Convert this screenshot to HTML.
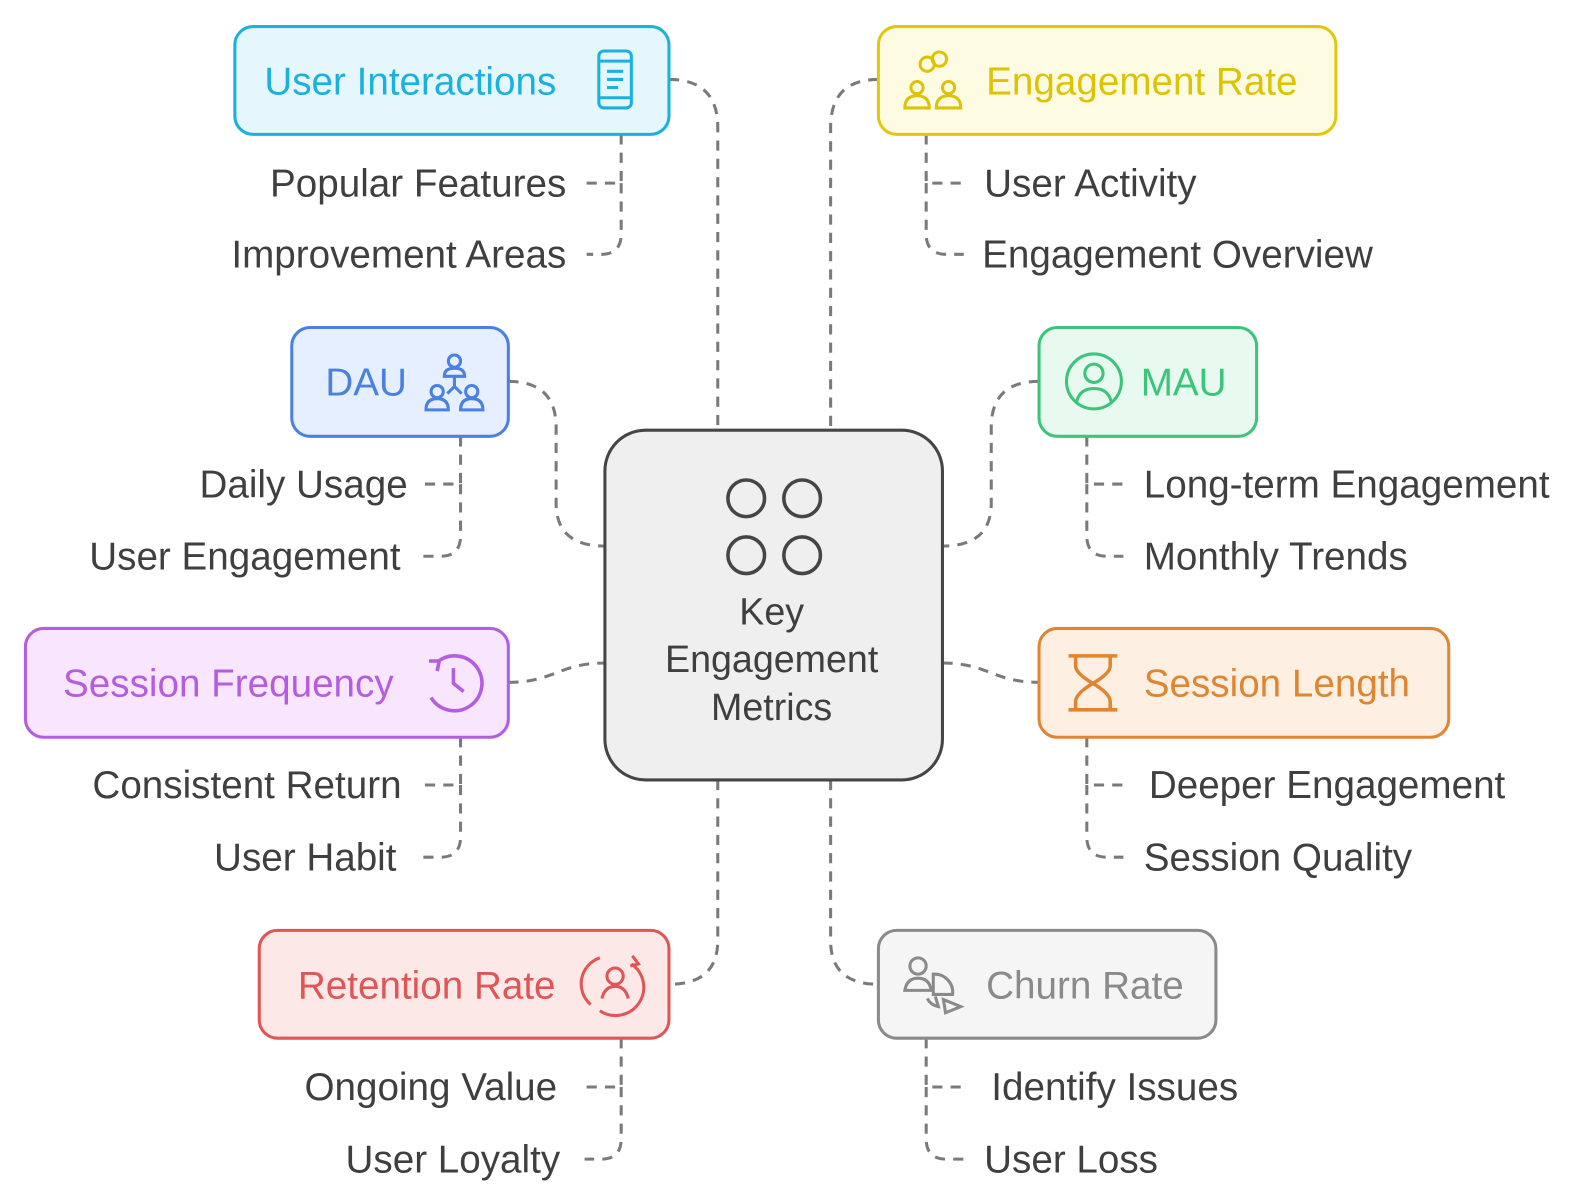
<!DOCTYPE html>
<html><head><meta charset="utf-8"><style>
html,body{margin:0;padding:0;background:#fff;}
svg{display:block;}
text{font-family:"Liberation Sans",sans-serif;}
</style></head><body>
<svg width="1586" height="1202" viewBox="0 0 1560 1182" xmlns="http://www.w3.org/2000/svg">
<g fill="none" stroke="#7a7a7a" stroke-width="3" stroke-dasharray="10 8">
<path d="M658,78 Q706,78 706,125 V423"/>
<path d="M864,78 Q817,78 817,125 V423"/>
<path d="M500,375 Q547,375 547,420 V495 Q547,537 595,537"/>
<path d="M1022,375 Q975,375 975,420 V495 Q975,537 927,537"/>
<path d="M500,671 C545,671 550,652 595,652"/>
<path d="M927,652 C972,652 977,671 1022,671"/>
<path d="M706,767 V925 Q706,968 658,968"/>
<path d="M817,767 V925 Q817,968 864,968"/>
<path d="M611,132 V180 H577 M611,180 V230 Q611,250 591,250 H577"/>
<path d="M911,132 V180 H948 M911,180 V230 Q911,250 931,250 H948"/>
<path d="M453,429 V476 H415 M453,476 V527 Q453,547 433,547 H415"/>
<path d="M1069,429 V476 H1105 M1069,476 V527 Q1069,547 1089,547 H1105"/>
<path d="M453,725 V772 H415 M453,772 V823 Q453,843 433,843 H415"/>
<path d="M1069,725 V772 H1108 M1069,772 V823 Q1069,843 1089,843 H1105"/>
<path d="M611,1021 V1069 H575 M611,1069 V1120 Q611,1140 591,1140 H575"/>
<path d="M911,1021 V1069 H950 M911,1069 V1120 Q911,1140 931,1140 H948"/>
</g>
<rect x="595" y="423" width="332" height="344" rx="40" fill="#efefef" stroke="#454545" stroke-width="3"/>
<g fill="none" stroke="#454545" stroke-width="3.5">
<circle cx="734" cy="490" r="18"/><circle cx="789" cy="490" r="18"/>
<circle cx="734" cy="546" r="18"/><circle cx="789" cy="546" r="18"/>
</g>
<g font-size="37" fill="#3f3f3f" text-anchor="middle">
<text x="759" y="614">Key</text><text x="759" y="661">Engagement</text><text x="759" y="708">Metrics</text>
</g>
<rect x="231" y="26" width="427" height="106" rx="18" fill="#e5f7fd" stroke="#1ab1e0" stroke-width="3"/>
<text x="260" y="93" font-size="38" fill="#1ab1e0">User Interactions</text>
<g fill="none" stroke="#1ab1e0" stroke-width="3"><rect x="589" y="50" width="32" height="56" rx="5"/><path d="M589,60 H621 M589,96 H621 M597,70 H613 M597,78 H613 M597,86 H608"/></g>

<rect x="864" y="26" width="450" height="106" rx="18" fill="#fefbe3" stroke="#e3c70e" stroke-width="3"/>
<text x="970" y="93" font-size="38" fill="#dcc306">Engagement Rate</text>
<g fill="none" stroke="#dcc306" stroke-width="3"><circle cx="912" cy="63" r="7"/><circle cx="924" cy="58" r="7"/><circle cx="902" cy="86" r="6"/><circle cx="933" cy="86" r="6"/><path d="M890,106 Q890,94 902,94 Q914,94 914,106 Z M921,106 Q921,94 933,94 Q945,94 945,106 Z"/></g>

<rect x="287" y="322" width="213" height="107" rx="18" fill="#e6efff" stroke="#4a80e0" stroke-width="3"/>
<text x="320" y="389" font-size="38" fill="#4a80e0">DAU</text>
<g fill="none" stroke="#4a80e0" stroke-width="3"><circle cx="447" cy="355" r="6"/><path d="M437,370 Q437,362 447,362 Q457,362 457,370 Z M447,370 V380 L440,387 M447,380 L454,387"/><circle cx="430" cy="385" r="6"/><circle cx="464" cy="385" r="6"/><path d="M419,403 Q419,392 430,392 Q441,392 441,403 Z M453,403 Q453,392 464,392 Q475,392 475,403 Z"/></g>

<rect x="1022" y="322" width="214" height="107" rx="18" fill="#e8f9ef" stroke="#3cc47a" stroke-width="3"/>
<text x="1122" y="389" font-size="38" fill="#3cc47a">MAU</text>
<g fill="none" stroke="#3cc47a" stroke-width="3"><circle cx="1076" cy="375" r="27"/><circle cx="1076" cy="367" r="9"/><path d="M1059,395 Q1062,382 1076,382 Q1090,382 1093,395"/></g>

<rect x="25" y="618" width="475" height="107" rx="18" fill="#f7e6fd" stroke="#b45de0" stroke-width="3"/>
<text x="62" y="685" font-size="38" fill="#b45de0">Session Frequency</text>
<g fill="none" stroke="#b45de0" stroke-width="3.5"><path d="M430,651 A27,27 0 1 1 424,686 M446,657 V672 L456,680 M422,650 L432,650 L430,660"/></g>

<rect x="1022" y="618" width="403" height="107" rx="18" fill="#fdf0e3" stroke="#e08530" stroke-width="3"/>
<text x="1125" y="685" font-size="38" fill="#e08530">Session Length</text>
<g fill="none" stroke="#e08530" stroke-width="3.5"><path d="M1051,645 H1099 M1051,698 H1099 M1058,645 V655 Q1058,662 1075,672 Q1058,682 1058,690 V698 M1092,645 V655 Q1092,662 1075,672 Q1092,682 1092,690 V698"/></g>

<rect x="255" y="915" width="403" height="106" rx="18" fill="#fde8e8" stroke="#e05555" stroke-width="3"/>
<text x="293" y="982" font-size="38" fill="#e05555">Retention Rate</text>
<g fill="none" stroke="#e05555" stroke-width="3"><path d="M621,948 A27,27 0 0 1 590,994 M590,942 A27,27 0 0 0 581,988"/><circle cx="605" cy="960" r="8"/><path d="M592,982 Q595,970 605,970 Q615,970 618,982"/><path d="M622,940 L628,948 L620,950"/></g>

<rect x="864" y="915" width="332" height="106" rx="18" fill="#f5f5f5" stroke="#8a8a8a" stroke-width="3"/>
<text x="970" y="982" font-size="38" fill="#8a8a8a">Churn Rate</text>
<g fill="none" stroke="#8a8a8a" stroke-width="3"><circle cx="903" cy="950" r="8"/><path d="M890,974 Q892,962 903,962 Q914,962 916,974 Z M918,958 A18,18 0 0 1 937,978 L918,978 Z M912,982 A16,16 0 0 0 923,990 L920,980 M928,983 L945,990 L930,996 Z"/></g>

<g font-size="38" fill="#3f3f3f">
<g text-anchor="end">
<text x="557" y="193">Popular Features</text>
<text x="557" y="263">Improvement Areas</text>
<text x="401" y="489">Daily Usage</text>
<text x="394" y="560">User Engagement</text>
<text x="395" y="785">Consistent Return</text>
<text x="390" y="856">User Habit</text>
<text x="548" y="1082">Ongoing Value</text>
<text x="551" y="1153">User Loyalty</text>
</g>
<text x="968" y="193">User Activity</text>
<text x="966" y="263">Engagement Overview</text>
<text x="1125" y="489">Long-term Engagement</text>
<text x="1125" y="560">Monthly Trends</text>
<text x="1130" y="785">Deeper Engagement</text>
<text x="1125" y="856">Session Quality</text>
<text x="975" y="1082">Identify Issues</text>
<text x="968" y="1153">User Loss</text>
</g>
</svg>
</body></html>
